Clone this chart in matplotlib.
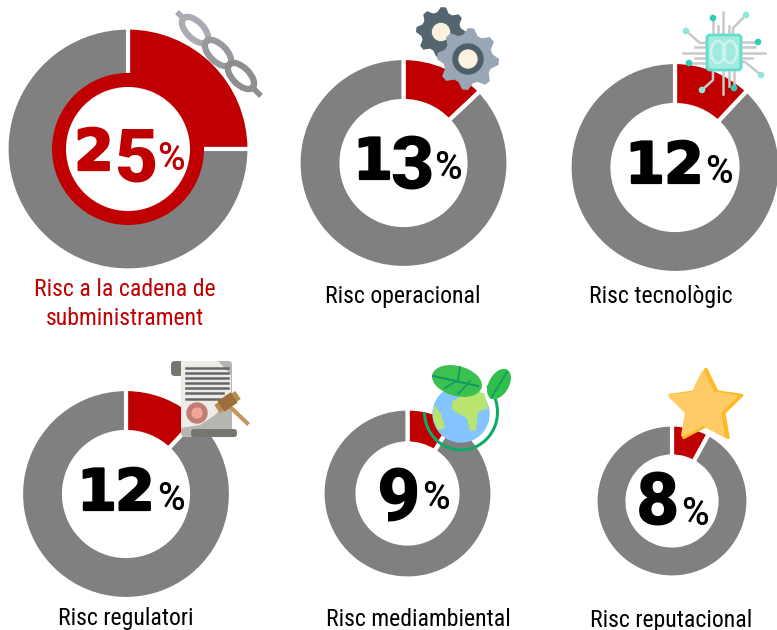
import numpy as np
import matplotlib
matplotlib.use('Agg')
import matplotlib.pyplot as plt
import matplotlib.patheffects as pe
from matplotlib.patches import Circle, Ellipse, FancyBboxPatch, Polygon, Wedge, Arc

# Datos
riscos = ['Risc a la cadena de\nsubministrament', 'Risc operacional', 'Risc tecnològic',
          'Risc regulatori', 'Risc mediambiental', 'Risc reputacional']
valors = [25, 13, 12, 12, 9, 8]

# Posicion de cada donut en pixeles: centro x, centro y, radio, agujero
cx = [128, 403.5, 675, 126, 407.5, 672]
cy = [149, 163, 167.5, 494, 493.5, 501]
radio = [120, 103.5, 104, 103.5, 83.5, 75]
agujero = [74, 63.5, 64, 63.5, 51.5, 46]
# cada cifra va suelta: los numeros del original son de estilo antiguo
cifra_x = [[94, 136], [373, 412], [645, 684], [97, 135], [398], [657.5]]
cifra_y = [[170, 182], [179, 190], [183, 183], [510, 510], [521], [526]]
pct_x = [171, 447.5, 719, 171, 435.5, 694.5]
pct_y = [170, 179, 183, 510, 509, 525]
label_x = [125, 403, 661, 126, 418, 671.5]
label_y = [304, 297, 297, 619, 620, 620]

ROJO = '#C00000'
GRIS = '#808080'
ETIQUETA = ['Roboto Condensed', 'Roboto', 'DejaVu Sans']

plt.rcParams['font.family'] = ['Roboto', 'DejaVu Sans']
fig = plt.figure(figsize=(7.77, 6.30), dpi=100)
ax = fig.add_axes([0, 0, 1, 1])


def Y(y):
    # de pixeles de la imagen a coordenadas del eje
    return 630 - y


for i in range(6):
    r = radio[i]
    h = agujero[i]
    ax.pie([valors[i], 100 - valors[i]], colors=[ROJO, GRIS], startangle=90, counterclock=False,
           center=(cx[i], Y(cy[i])), radius=r + 1.5, frame=True,
           wedgeprops=dict(width=r - h + 3, edgecolor='white', linewidth=3))
    color = ROJO if i == 0 else 'black'
    for c, x, y in zip(str(valors[i]), cifra_x[i], cifra_y[i]):
        if c in '12':
            t = ax.text(x, Y(y), c, ha='center', va='baseline', fontsize=41, fontweight='bold',
                        family='DejaVu Sans', color=color, zorder=6)
            t.set_path_effects([pe.withStroke(linewidth=1.6, foreground=color)])
        else:
            ax.text(x, Y(y), c, ha='center', va='baseline', fontsize=54, fontweight='black',
                    color=color, zorder=6)
    ax.text(pct_x[i], Y(pct_y[i]), '%', ha='center', va='baseline', fontsize=27, fontweight='medium',
            color=color, zorder=6)
    ax.text(label_x[i], Y(label_y[i]), riscos[i], ha='center', va='center', fontsize=17.1,
            family=ETIQUETA, color=ROJO if i == 0 else 'black', linespacing=1.3)

# anillo rojo del primer donut
ax.add_patch(Wedge((cx[0], Y(cy[0])), 76, 0, 360, width=14, color=ROJO, lw=0, zorder=4))

# cadena
for x, y, c in [(195, 30, '#ABABB3'), (218, 53, '#98989E'), (241, 76, '#8E8E8E')]:
    ax.add_patch(Ellipse((x, Y(y)), 33, 17, angle=-45, fill=False, ec=c, lw=4.5, zorder=5))
ax.plot([179, 184], [Y(14), Y(19)], color='#ABABB3', lw=4, zorder=5)
ax.plot([252, 259], [Y(87), Y(94)], color='#8E8E8E', lw=4, zorder=5)


def engranaje(x, y, r, color, dientes=8):
    ang = np.linspace(0, 2 * np.pi, dientes * 4, endpoint=False) + np.pi / 2 - np.pi / dientes / 2
    rr = np.tile([r, r, r * 0.8, r * 0.8], dientes)
    pts = np.c_[x + rr * np.cos(ang), Y(y) + rr * np.sin(ang)]
    ax.add_patch(Polygon(pts, closed=True, color=color, lw=0, zorder=5))


# engranajes
engranaje(441, 32, 25, '#55656F')
ax.add_patch(Circle((441, Y(32)), 8.5, color='#FBF1DF', zorder=5))
engranaje(468, 59, 31, '#98A6B5')
ax.add_patch(Circle((468, Y(59)), 15, color='#4F5F6A', zorder=5))
ax.add_patch(Circle((468, Y(59)), 9, color='#FBF1DF', zorder=5))

# chip
LINEA = '#C9C9C9'
for xs, ys in [([723, 723], [12, 94]), ([683, 765], [53, 53]), ([713, 713], [18, 35]),
               ([746, 733, 733], [15, 28, 35]), ([686, 700, 708], [31, 43, 43]),
               ([758, 740], [42, 42]), ([689, 708], [63, 63]), ([761, 745, 740], [75, 62, 62]),
               ([702, 713, 713], [90, 80, 72]), ([734, 734], [88, 72]), ([718, 718], [26, 33]),
               ([729, 729], [26, 33]), ([695, 705], [47, 47]), ([743, 755], [47, 47]),
               ([695, 705], [58, 58]), ([743, 752], [58, 58]), ([729, 729], [72, 86])]:
    ax.plot(xs, [Y(v) for v in ys], color=LINEA, lw=1.8, zorder=5)
ax.add_patch(FancyBboxPatch((707, Y(70)), 34, 35, boxstyle='round,pad=0,rounding_size=3',
                            fc='#A3EBDF', ec='#62DCCD', lw=2, zorder=5))
ax.add_patch(Ellipse((718, Y(52)), 14, 22, fc='none', ec='#CDF5EE', lw=1.8, zorder=5))
ax.add_patch(Ellipse((730, Y(52)), 14, 22, fc='none', ec='#CDF5EE', lw=1.8, zorder=5))
for x, y, c in [(713, 18, '#2FCDBB'), (746, 15, '#90E8DA'), (686, 31, '#90E8DA'), (758, 42, '#2FCDBB'),
                (689, 63, '#2FCDBB'), (761, 75, '#90E8DA'), (702, 90, '#90E8DA'), (734, 88, '#2FCDBB')]:
    ax.add_patch(Circle((x, Y(y)), 2.6, color=c, zorder=6))

# documento
ax.add_patch(FancyBboxPatch((171, Y(376)), 12, 15, boxstyle='round,pad=0,rounding_size=4',
                            fc='#77756F', lw=0, zorder=5))
ax.add_patch(FancyBboxPatch((181, Y(437)), 51, 76, boxstyle='round,pad=0,rounding_size=4',
                            fc='#B7B5B0', lw=0, zorder=5))
ax.add_patch(Polygon([(181, Y(361)), (218, Y(361)), (231, Y(375)), (231, Y(398)), (215, Y(415)),
                      (200, Y(425)), (181, Y(428))], closed=True, fc='#EEECE7', lw=0, zorder=5))
ax.add_patch(FancyBboxPatch((191, Y(437)), 46, 8, boxstyle='round,pad=0,rounding_size=3',
                            fc='#77756F', lw=0, zorder=5))
for y, x2 in [(368, 228), (373, 228), (378, 228), (383, 228), (388, 228), (393, 223), (399, 220)]:
    ax.plot([186, x2], [Y(y), Y(y)], color='#66666A', lw=1.8, zorder=6)
ax.add_patch(Circle((197, Y(413)), 10, color='#C07D74', zorder=6))
ax.add_patch(Circle((197, Y(413)), 5, color='#F4A597', zorder=6))
ax.plot([227, 247], [Y(404), Y(423)], color='#C8955C', lw=3, zorder=6)
ax.plot([217, 238], [Y(409), Y(395)], color='#B98A52', lw=7, solid_capstyle='butt', zorder=7)
ax.plot([221, 234], [Y(406.5), Y(397.5)], color='#9E6D3C', lw=9, solid_capstyle='butt', zorder=7)

# globo
ax.add_patch(Circle((461, Y(414)), 28, color='#85C5FF', zorder=5))
ax.add_patch(Polygon([(452, Y(402)), (468, Y(391)), (484, Y(393)), (488, Y(408)), (478, Y(412)),
                      (476, Y(430)), (470, Y(431)), (467, Y(418)), (452, Y(410))],
                     closed=True, color='#B9E56E', lw=0, zorder=6))
ax.add_patch(Polygon([(434, Y(405)), (441, Y(414)), (445, Y(428)), (438, Y(430)), (433, Y(418))],
                     closed=True, color='#B9E56E', lw=0, zorder=6))
ax.add_patch(Arc((461, Y(412)), 73, 76, theta1=-180, theta2=45, color='#0FA968', lw=2.2, zorder=7))
ax.add_patch(Ellipse((457, Y(381)), 51, 30, angle=-15, color='#3CC04F', lw=0, zorder=8))
ax.plot([433, 478], [Y(376), Y(386)], color='#119A66', lw=1.5, zorder=9)
ax.plot([445, 458, 460], [Y(388), Y(380), Y(367)], color='#119A66', lw=1.2, zorder=9)
ax.plot([458, 470], [Y(394), Y(381)], color='#119A66', lw=1.2, zorder=9)
ax.add_patch(Ellipse((499, Y(384)), 20, 33, angle=-30, color='#2FBF4A', lw=0, zorder=8))
ax.plot([491, 507], [Y(398), Y(372)], color='#119A66', lw=1.2, zorder=9)


def estrella(x, y, r, color, z):
    ang = np.pi / 2 + np.arange(10) * np.pi / 5
    rr = np.tile([r, r * 0.5], 5)
    pts = np.c_[x + rr * np.cos(ang), Y(y) + rr * np.sin(ang)]
    ax.add_patch(Polygon(pts, closed=True, fc=color, ec=color, lw=2, joinstyle='round', zorder=z))


# estrella
estrella(706, 407, 38, '#FFB925', 5)
estrella(703, 407, 35, '#FFCB66', 6)

ax.set_xlim(0, 777)
ax.set_ylim(0, 630)
ax.set_aspect('equal')
ax.axis('off')
fig.savefig('out.png', dpi=100)
